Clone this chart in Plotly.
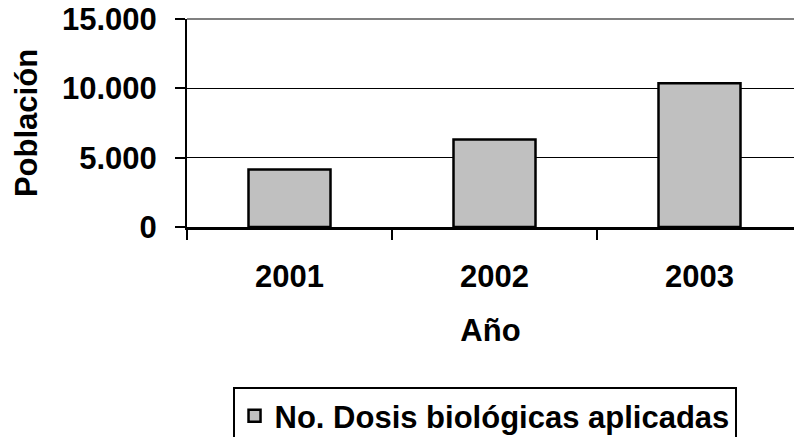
import plotly.graph_objects as go

# data
years = ["2001", "2002", "2003"]
dosis = [4150, 6310, 10360]
y_tick_vals = [0, 5000, 10000, 15000]
y_tick_text = ["0", "5.000", "10.000", "15.000"]
series_name = "No. Dosis biológicas aplicadas"

font_fam = "Arial, Liberation Sans, sans-serif"
big = dict(family=font_fam, size=31, color="black", weight="bold")

fig = go.Figure()
fig.add_trace(go.Bar(
    x=years, y=dosis, name=series_name,
    width=0.4,
    marker=dict(color="#C0C0C0", line=dict(color="black", width=2.5)),
    showlegend=True,
))

fig.update_layout(
    width=794, height=437,
    margin=dict(l=187, r=0, t=19, b=210, autoexpand=False),
    paper_bgcolor="white", plot_bgcolor="white",
    font=big,
    showlegend=True,
    legend=dict(
        x=0.075, y=-0.77, xanchor="left", yanchor="top",
        bordercolor="black", borderwidth=2, bgcolor="white",
        font=big,
    ),
    xaxis=dict(
        type="category",
        automargin=False,
        range=[-0.5, 2.5 - 8 / 205],
        tickson="boundaries",
        ticks="outside", ticklen=10, tickwidth=2, tickcolor="black",
        showline=True, linecolor="black", linewidth=3,
        showgrid=False,
        tickfont=big,
        ticklabelstandoff=20,
        title=dict(text="Año", font=big, standoff=27),
    ),
    yaxis=dict(
        automargin=False,
        range=[0, 15000],
        tickvals=y_tick_vals, ticktext=y_tick_text,
        ticks="outside", ticklen=10, tickwidth=2, tickcolor="black",
        showline=True, linecolor="black", linewidth=2,
        showgrid=True, gridcolor="black", gridwidth=1,
        zeroline=False,
        tickfont=big,
        ticklabelstandoff=12,
        title=dict(text="Población", font=big, standoff=15),
    ),
)

# grey top border of the plot area
fig.add_shape(type="line", xref="paper", yref="paper", x0=0, x1=1, y0=1, y1=1,
              line=dict(color="#808080", width=2), layer="above")

# drop the default page margin so the figure sits at the window's corner
fig.write_html("out.html", config={"displayModeBar": False},
               post_script="document.body.style.margin='0px';")
